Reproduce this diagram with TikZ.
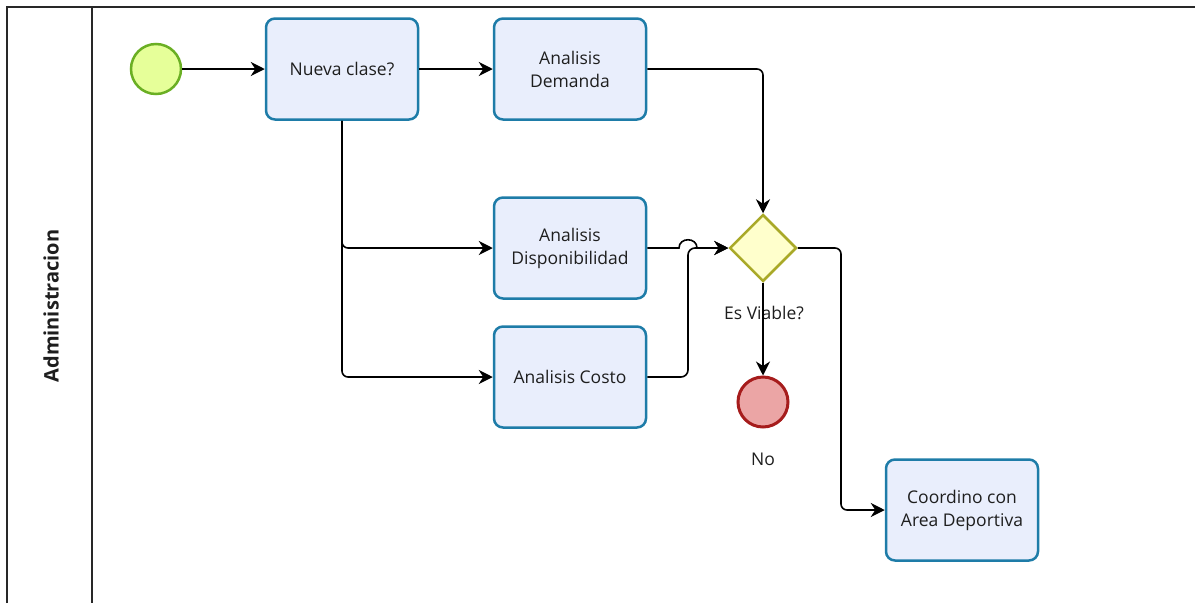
\documentclass[tikz,border=0pt]{standalone}
\usepackage{fontspec}
\setmainfont{Open Sans}
\usetikzlibrary{arrows.meta,shapes.geometric}
\definecolor{boxfill}{RGB}{233,238,252}
\definecolor{boxline}{RGB}{30,124,168}
\definecolor{startfill}{RGB}{230,255,153}
\definecolor{startline}{RGB}{106,175,35}
\definecolor{gwfill}{RGB}{255,255,204}
\definecolor{gwline}{RGB}{169,169,40}
\definecolor{endfill}{RGB}{235,165,165}
\definecolor{endline}{RGB}{166,28,28}
\definecolor{txt}{RGB}{30,30,30}
\definecolor{frame}{RGB}{40,40,40}
\tikzset{
  task/.style={rectangle, rounded corners=9pt, draw=boxline, line width=2.5pt, fill=boxfill,
    minimum width=152pt, minimum height=101pt, align=center, inner sep=2pt,
    font=\fontsize{17.5}{23}\selectfont, text=txt},
  startev/.style={circle, draw=startline, fill=startfill, line width=2.5pt, minimum size=50pt, inner sep=0pt},
  endev/.style={circle, draw=endline, fill=endfill, line width=3pt, minimum size=50pt, inner sep=0pt},
  gateway/.style={diamond, aspect=1, draw=gwline, fill=gwfill, line width=2.5pt, minimum width=67pt, minimum height=67pt, inner sep=0pt},
  flow/.style={draw=black, line width=1.6pt, -{Stealth[length=14pt,width=14pt,inset=4.5pt]}},
  lbl/.style={font=\fontsize{17.5}{23}\selectfont, text=txt, inner sep=0pt},
  lane/.style={draw=frame, line width=1.6pt}
}
\begin{document}
\begin{tikzpicture}[x=1pt,y=-1pt]
\useasboundingbox (0,0) rectangle (1195,603);
% frame
\draw[lane] (7,603) -- (7,7) -- (1195,7);
\draw[lane] (92,7) -- (92,603);
\node[rotate=90, font=\bfseries\fontsize{20}{24}\selectfont, text=txt] (lanelbl) at (51,306) {Administracion};
% nodes
\node[startev] (start) at (156,69) {};
\node[task] (nueva) at (342,69) {Nueva clase?};
\node[task] (demanda) at (570,69) {Analisis\\Demanda};
\node[task] (disp) at (570,248) {Analisis\\Disponibilidad};
\node[task] (costo) at (570,377) {Analisis Costo};
\node[gateway] (gw) at (763,248) {};
\node[lbl] (gwlbl) at (764,313) {Es Viable?};
\node[endev] (end) at (763,402) {};
\node[lbl] (endlbl) at (763,459) {No};
\node[task] (coord) at (962,510) {Coordino con\\Area Deportiva};
% coordinates
\coordinate (hopL) at (679,248);
\coordinate (hopR) at (697,248);
\coordinate (jx) at (688,248);
\coordinate (gx) at (841,510);
% connectors
\draw[flow] (start) -- (nueva);
\draw[flow] (nueva) -- (demanda);
\draw[flow, rounded corners=6pt] (demanda.east) -| (gw.north);
\draw[flow, rounded corners=6pt] (nueva.south) |- (disp.west);
\draw[flow, rounded corners=6pt] (nueva.south) |- (costo.west);
\draw[flow] (disp.east) -- (hopL) .. controls +(0,-11) and +(0,-11) .. (hopR) -- (gw.west);
\draw[flow, rounded corners=7pt] (costo.east) -| (jx) -- (gw.west);
\draw[flow, rounded corners=6pt] (gw.east) -| (gx) -- (coord.west);
\draw[flow] (gw.south) -- (end.north);
\end{tikzpicture}
\end{document}
